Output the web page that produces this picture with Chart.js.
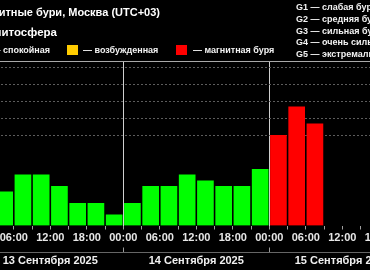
<!DOCTYPE html>
<html>
<head>
<meta charset="utf-8">
<script src="https://cdn.jsdelivr.net/npm/chart.js@4.4.1/dist/chart.umd.min.js"></script>
<style>
  html, body { margin: 0; padding: 0; background: #000; }
  #wrap { position: relative; width: 370px; height: 270px; overflow: hidden; background: #000;
          font-family: "Liberation Sans", Arial, sans-serif; font-weight: bold; color: #fff; }
  #chart { position: absolute; left: -100px; top: 0; }
  .t { position: absolute; white-space: nowrap; line-height: 1; }
  .sm { font-size: 9px; color: #f2f2f2; }
  .sq { position: absolute; width: 11px; height: 10px; }
</style>
</head>
<body>
<div id="wrap">
  <canvas id="chart" width="600" height="270" style="width:600px;height:270px"></canvas>

  <div class="t" style="right:210px;top:7px;font-size:11px">Магнитные бури, Москва (UTC+03)</div>
  <div class="t" style="right:313px;top:27px;font-size:11.5px">Магнитосфера</div>

  <div class="sq" style="left:-23px;top:45px;background:#00ff00"></div>
  <div class="t sm" style="right:320px;top:45.5px">— спокойная</div>
  <div class="sq" style="left:67px;top:45px;background:#ffcc00"></div>
  <div class="t sm" style="left:83px;top:45.5px">— возбужденная</div>
  <div class="sq" style="left:176px;top:45px;background:#ff0000"></div>
  <div class="t sm" style="left:193px;top:45.5px">— магнитная буря</div>

  <div class="t sm" style="left:296px;top:2.5px">G1 — слабая буря</div>
  <div class="t sm" style="left:296px;top:14.5px">G2 — средняя буря</div>
  <div class="t sm" style="left:296px;top:26.5px">G3 — сильная буря</div>
  <div class="t sm" style="left:296px;top:38px">G4 — очень сильная буря</div>
  <div class="t sm" style="left:296px;top:49.5px">G5 — экстремальная буря</div>
</div>

<script>
// Kp-индекс по трёхчасовым интервалам (00-03, 03-06, ... 21-24)
const days = ['13 Сентября 2025', '14 Сентября 2025', '15 Сентября 2025'];
const kp13 = [null, 1.67, 2.67, 2.67, 2.0, 1.0, 1.0, 0.33];
const kp14 = [1.0, 2.0, 2.0, 2.67, 2.33, 2.0, 2.0, 3.0];
const kp15 = [5.0, 6.67, 5.67, null, null, null, null, null];
const hourLabels = ['00:00', '06:00', '12:00', '18:00'];
const stormLevels = [5, 6, 7, 8, 9]; // G1..G5

const Y_MIN = -0.3, Y_MAX = 9.33;
const HOURS = days.length * 24;

function kpColor(v) {
  if (v >= 5) return '#ff0000';
  if (v >= 4) return '#ffcc00';
  return '#00ff00';
}

const points = [];
[kp13, kp14, kp15].forEach((arr, d) => {
  arr.forEach((v, i) => {
    if (v !== null) points.push({ x: d * 24 + i * 3 + 1.5, y: v });
  });
});

const font = { family: '"Liberation Sans", Arial, sans-serif', size: 11, weight: 'bold' };

// короткие риски на нижней линии между днями
const dayTicks = {
  id: 'dayTicks',
  afterDraw(chart) {
    const s = chart.scales.x2;
    const ctx = chart.ctx;
    ctx.save();
    ctx.strokeStyle = '#999';
    ctx.lineWidth = 1;
    for (let h = 24; h < HOURS; h += 24) {
      const px = Math.round(s.getPixelForValue(h)) + 0.5;
      ctx.beginPath();
      ctx.moveTo(px, s.top - 4.5);
      ctx.lineTo(px, s.top);
      ctx.stroke();
    }
    ctx.restore();
  }
};

new Chart(document.getElementById('chart'), {
  type: 'bar',
  data: {
    datasets: [{
      data: points,
      backgroundColor: points.map(p => kpColor(p.y)),
      borderWidth: 0,
      barThickness: 16,
      base: Y_MIN
    }]
  },
  options: {
    responsive: false,
    animation: false,
    layout: { padding: { left: 77.3, right: 84.7, top: 61.5, bottom: 0 } },
    plugins: { legend: { display: false }, tooltip: { enabled: false } },
    scales: {
      x: {
        type: 'linear', position: 'bottom', weight: 0,
        min: 0, max: HOURS, offset: false,
        afterBuildTicks: s => {
          const t = [];
          for (let h = 0; h <= HOURS; h += 3) t.push({ value: h });
          s.ticks = t;
        },
        afterFit: s => { s.height = 26.5; },
        ticks: {
          autoSkip: false, maxRotation: 0, minRotation: 0, padding: 2,
          color: '#e8e8e8', font,
          callback: v => (v % 6 === 0 ? hourLabels[(v % 24) / 6] : '')
        },
        grid: {
          offset: false, tickLength: 4, lineWidth: 1,
          color: c => (c.tick && c.tick.value % 24 === 0 && c.tick.value > 0 && c.tick.value < HOURS) ? '#cfcfcf' : 'rgba(0,0,0,0)',
          tickColor: '#a0a0a0'
        },
        border: { display: false }
      },
      x2: {
        type: 'linear', position: 'bottom', weight: 1,
        min: 0, max: HOURS, offset: false,
        afterBuildTicks: s => { s.ticks = days.map((d, i) => ({ value: i * 24 + 12 })); },
        afterFit: s => { s.height = 18; },
        ticks: {
          autoSkip: false, maxRotation: 0, minRotation: 0, padding: 2,
          color: '#f0f0f0', font,
          callback: v => days[Math.floor(v / 24)]
        },
        grid: { drawOnChartArea: false, drawTicks: false },
        border: { display: true, color: '#666', width: 1 }
      },
      xTop: {
        type: 'linear', position: 'top',
        min: 0, max: HOURS,
        afterFit: s => { s.height = 0; },
        ticks: { display: false },
        grid: { drawOnChartArea: false, drawTicks: false },
        border: { display: true, color: '#a8a8a8', width: 1 }
      },
      y: {
        min: Y_MIN, max: Y_MAX,
        afterBuildTicks: s => { s.ticks = stormLevels.map(v => ({ value: v })); },
        afterFit: s => { s.width = 0; },
        ticks: { display: false },
        grid: { drawTicks: false, color: '#5c5c5c', lineWidth: 1 },
        border: { display: false, dash: [2, 2] }
      }
    }
  },
  plugins: [dayTicks]
});
</script>
</body>
</html>
